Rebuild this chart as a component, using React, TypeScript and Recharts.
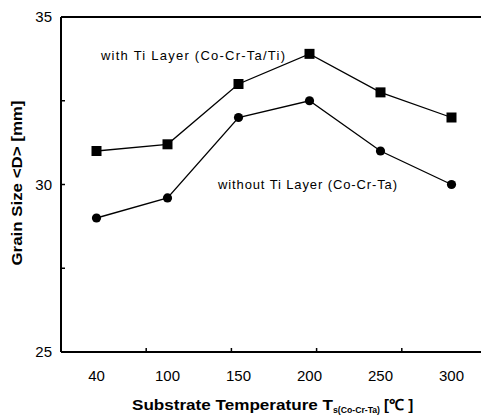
import React from "react";
import { LineChart, Line, XAxis, YAxis, ReferenceLine } from "recharts";

const categories = ["40", "100", "150", "200", "250", "300"];
const withTi = [31.0, 31.2, 33.0, 33.9, 32.75, 32.0];
const withoutTi = [29.0, 29.6, 32.0, 32.5, 31.0, 30.0];
const yTicks = [25, 27.5, 30, 32.5, 35];
const minorXTicks = [0, 1, 2, 3, 4, 5, 6, 7, 8, 9, 10, 11, 12];
const withTiLabel = "with Ti Layer (Co-Cr-Ta/Ti)";
const withoutTiLabel = "without Ti Layer (Co-Cr-Ta)";

const data = categories.map((c, i) => ({ temp: c, withTi: withTi[i], withoutTi: withoutTi[i] }));

const FONT = "'Liberation Sans', Arial, sans-serif";

const SquareDot = (props: any) => {
  const { cx, cy, index } = props;
  if (cx == null || cy == null) return null;
  return <rect key={`sq-${index}`} x={cx - 5} y={cy - 5} width={10} height={10} fill="#000" />;
};

const CircleDot = (props: any) => {
  const { cx, cy, index } = props;
  if (cx == null || cy == null) return null;
  return <circle key={`ci-${index}`} cx={cx} cy={cy} r={4.6} fill="#000" />;
};

export default function App() {
  return (
    <div style={{ position: "absolute", left: 0, top: 0, width: 481, height: 418, overflow: "hidden", background: "#fff" }}>
      <LineChart width={490} height={418} data={data} margin={{ top: 17, right: 3, bottom: 0, left: 1 }}>
        <XAxis
          xAxisId="a"
          type="number"
          domain={[0, 12]}
          allowDataOverflow
          ticks={minorXTicks}
          tickFormatter={() => ""}
          height={1}
          axisLine={{ stroke: "#000", strokeWidth: 2 }}
          tickLine={{ stroke: "#000", strokeWidth: 1.5 }}
          tickSize={-4}
        />
        <XAxis
          xAxisId="b"
          dataKey="temp"
          scale="band"
          height={65}
          axisLine={false}
          tickLine={false}
          tickSize={0}
          tickMargin={17}
          tick={{ fill: "#000", fontSize: 15, fontFamily: FONT }}
        />
        <YAxis
          width={60}
          domain={[25, 35]}
          ticks={yTicks}
          tickFormatter={(v: number) => (v % 5 === 0 ? String(v) : "")}
          axisLine={{ stroke: "#000", strokeWidth: 2 }}
          tickLine={{ stroke: "#000", strokeWidth: 1.5 }}
          tickSize={-4}
          tickMargin={13}
          tick={{ fill: "#000", fontSize: 15, fontFamily: FONT }}
        />
        <ReferenceLine xAxisId="b" y={35} stroke="#000" strokeWidth={2} />
        <Line
          xAxisId="b"
          dataKey="withTi"
          stroke="#000"
          strokeWidth={1.3}
          dot={SquareDot}
          isAnimationActive={false}
        />
        <Line
          xAxisId="b"
          dataKey="withoutTi"
          stroke="#000"
          strokeWidth={1.3}
          dot={CircleDot}
          isAnimationActive={false}
        />
        <text x={101} y={60} fontSize={13} fontFamily={FONT} fill="#000" textLength={184} lengthAdjust="spacing">
          {withTiLabel}
        </text>
        <text x={218} y={189} fontSize={13} fontFamily={FONT} fill="#000" textLength={179} lengthAdjust="spacing">
          {withoutTiLabel}
        </text>
        <text
          x={17}
          y={183}
          transform="rotate(-90 17 183)"
          textAnchor="middle"
          dominantBaseline="central"
          fontSize={14}
          fontWeight="bold"
          fontFamily={FONT}
          fill="#000"
          textLength={165}
          lengthAdjust="spacingAndGlyphs"
        >
          Grain Size &lt;D&gt; [mm]
        </text>
        <text x={132} y={410} fontSize={15} fontWeight="bold" fontFamily={FONT} fill="#000">
          <tspan textLength={201} lengthAdjust="spacingAndGlyphs">Substrate Temperature T</tspan>
          <tspan fontSize={9} dy={3} textLength={47} lengthAdjust="spacingAndGlyphs">s(Co-Cr-Ta)</tspan>
          <tspan dy={-3} dx={4}>[℃ ]</tspan>
        </text>
      </LineChart>
    </div>
  );
}
